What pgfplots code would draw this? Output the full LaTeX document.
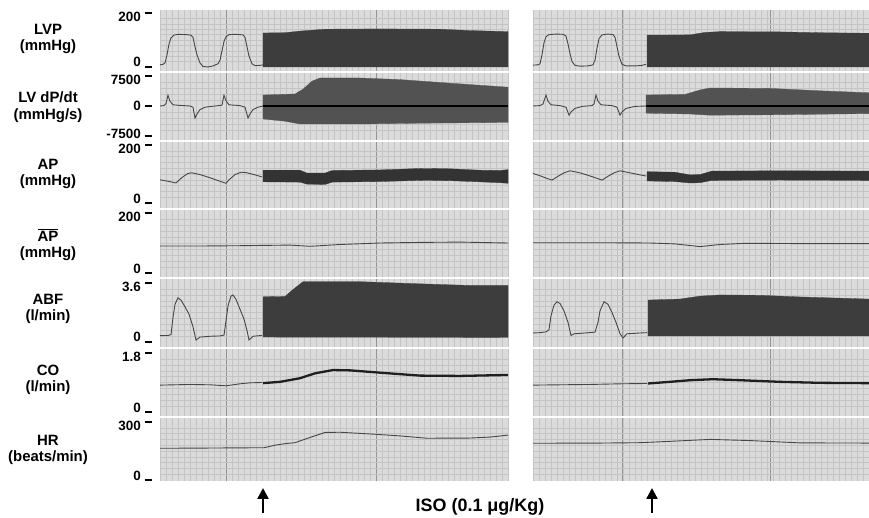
\documentclass[border=0pt]{standalone}
\usepackage{fontspec}
\setmainfont{Liberation Sans}
\usepackage{pgfplots}
\pgfplotsset{compat=1.18}
\usetikzlibrary{arrows.meta}
\definecolor{paper}{gray}{0.86}
\definecolor{gridc}{gray}{0.77}
\definecolor{majc}{gray}{0.58}
\newcommand{\dash}{\hspace{4bp}\rule[-0.8bp]{7bp}{1.7bp}}
\newcommand{\toplab}[1]{\raisebox{-8.5bp}{#1}\dash}
\newcommand{\botlab}[1]{#1\dash}
\newcommand{\midlab}[1]{\raisebox{-4.5bp}{#1}\dash}
\newcommand{\neglab}[1]{\raisebox{-3bp}{#1}\dash}
\pgfplotsset{
  strip/.style={scale only axis, anchor=south west, clip=false,
    axis background/.style={fill=paper},
    axis line style={draw=none},
    tick style={draw=none},
    xticklabels={},
    xmajorgrids=true, xminorgrids=true, yminorgrids=true, ymajorgrids=false,
    major grid style={draw=majc, line width=0.6bp},
    minor grid style={draw=gridc, line width=0.35bp},
    tick label style={font=\fontsize{13.5}{14}\selectfont\bfseries},
    yticklabel style={anchor=base east, inner sep=0pt, xshift=-8bp},
    minor y tick num=9},
  leftp/.style={strip, width=348bp, xmin=160, xmax=508, xtick={226,376},
    minor xtick={160,166,...,508}},
  rightp/.style={strip, width=336bp, xmin=533, xmax=869, xtick={622,770},
    minor xtick={533,539,...,869}, yticklabels={}},
  trace/.style={draw=black!72, line width=0.9bp},
  band/.style={fill=black!76, draw=black!76, line width=0.3bp},
}
\begin{document}
\begin{tikzpicture}
\path[use as bounding box] (0,0) rectangle (869bp,518bp);
% ---------------- Row 1: LVP
\begin{axis}[leftp, at={(160bp,447bp)}, height=61bp, ymin=-14.8, ymax=211.1,
  ytick={0,200}, yticklabels={\botlab{0},\toplab{200}}]
\addplot[trace] coordinates {(160,8)(163,10)(165,15)(167,45)(169,85)(171,108)(174,118)(178,121)(186,120)(191,118)(193,110)(195,75)(197,45)(200,15)(203,2)(208,0)(213,4)(218,12)(220,25)(222,60)(224,95)(226,112)(229,120)(236,121)(243,119)(245,110)(247,75)(249,40)(252,12)(255,5)(260,6)(263,8)};
\addplot[band] coordinates {(263,0)(263,126)(285,127)(300,133)(325,140)(380,141)(440,140)(470,135)(508,131)(508,0)} -- cycle;
\end{axis}
\begin{axis}[rightp, at={(533bp,447bp)}, height=61bp, ymin=-14.8, ymax=211.1, ytick={0,200}]
\addplot[trace] coordinates {(533,7)(538,8)(540,12)(542,45)(544,90)(546,112)(549,120)(556,122)(563,121)(566,115)(568,85)(570,50)(572,20)(575,6)(580,3)(588,4)(593,8)(595,25)(597,70)(599,105)(602,119)(608,122)(613,120)(615,110)(617,75)(619,40)(622,10)(626,4)(635,4)(642,6)(646,10)};
\addplot[band] coordinates {(647,0)(647,118)(690,119)(705,128)(720,131)(780,130)(820,127)(869,125)(869,0)} -- cycle;
\end{axis}
% ---------------- Row 2: LV dP/dt
\begin{axis}[leftp, at={(160bp,378bp)}, height=67bp, ymin=-8500, ymax=8250,
  ytick={-7500,0,7500}, minor y tick num=4,
  yticklabels={\neglab{-7500},\midlab{0},\toplab{7500}}]
\addplot[trace] coordinates {(160,0)(164,100)(166,600)(168,2700)(170,1200)(173,300)(180,150)(190,0)(193,-300)(195,-3000)(197,-2000)(200,-900)(205,-300)(215,0)(222,200)(224,2700)(226,1300)(229,300)(240,100)(245,-300)(248,-3000)(250,-2000)(253,-900)(258,-300)(263,0)};
\addplot[band, fill=black!68, draw=black!68] coordinates {(263,2750)(295,3000)(303,4200)(312,6200)(320,7000)(360,7000)(400,6600)(450,5700)(508,4700)(508,-4100)(420,-4300)(360,-4500)(300,-4500)(285,-3800)(263,-3250)} -- cycle;
\addplot[draw=black, line width=1.4bp] coordinates {(263,0)(508,0)};
\end{axis}
\begin{axis}[rightp, at={(533bp,378bp)}, height=67bp, ymin=-8500, ymax=8250,
  ytick={-7500,0,7500}, minor y tick num=4]
\addplot[trace] coordinates {(533,0)(540,100)(543,500)(546,2750)(548,1200)(551,300)(560,100)(566,-300)(569,-2300)(571,-1500)(575,-600)(582,-100)(592,100)(594,500)(596,2750)(598,1200)(601,300)(612,100)(617,-300)(620,-2300)(622,-1500)(626,-600)(635,-100)(646,0)};
\addplot[band, fill=black!68, draw=black!68] coordinates {(646,2750)(685,2900)(700,4000)(710,4500)(770,4400)(820,3800)(869,3300)(869,-1900)(770,-2200)(710,-2300)(690,-2000)(646,-1800)} -- cycle;
\addplot[draw=black, line width=1.4bp] coordinates {(646,0)(869,0)};
\end{axis}
% ---------------- Row 3: AP
\begin{axis}[leftp, at={(160bp,310bp)}, height=66bp, ymin=-17.2, ymax=210.3,
  ytick={0,200}, yticklabels={\botlab{0},\toplab{200}}]
\addplot[trace] coordinates {(160,80)(168,75)(176,69)(182,88)(188,102)(192,104)(200,98)(210,87)(220,75)(226,68)(229,80)(235,98)(241,106)(246,105)(254,98)(262,90)};
\addplot[band, fill=black!80, draw=black!80] coordinates {(263,113)(300,113)(307,103)(325,103)(332,112)(380,114)(420,119)(450,118)(480,113)(500,112)(508,115)(508,68)(500,70)(480,73)(450,77)(420,78)(380,74)(332,72)(325,64)(307,65)(300,72)(263,73)} -- cycle;
\end{axis}
\begin{axis}[rightp, at={(533bp,310bp)}, height=66bp, ymin=-17.2, ymax=210.3, ytick={0,200}]
\addplot[trace] coordinates {(533,102)(540,94)(546,86)(552,79)(558,92)(564,104)(570,111)(580,104)(592,91)(602,79)(608,92)(614,104)(620,111)(630,104)(640,97)(646,93)};
\addplot[band, fill=black!80, draw=black!80] coordinates {(647,108)(675,106)(690,97)(700,98)(712,110)(780,111)(869,110)(869,78)(780,79)(712,78)(700,70)(690,69)(675,74)(647,76)} -- cycle;
\end{axis}
% ---------------- Row 4: mean AP
\begin{axis}[leftp, at={(160bp,241bp)}, height=67bp, ymin=-13.3, ymax=210,
  ytick={0,200}, yticklabels={\botlab{0},\toplab{200}}]
\addplot[trace] coordinates {(160,90)(200,90)(240,91)(263,92)(290,93)(310,89)(340,95)(380,100)(420,102)(460,103)(508,100)};
\end{axis}
\begin{axis}[rightp, at={(533bp,241bp)}, height=67bp, ymin=-13.3, ymax=210, ytick={0,200}]
\addplot[trace] coordinates {(533,101)(600,101)(650,100)(675,97)(700,88)(720,95)(745,99)(800,98)(869,98)};
\end{axis}
% ---------------- Row 5: ABF
\begin{axis}[leftp, at={(160bp,171bp)}, height=68bp, ymin=-0.305, ymax=3.844,
  ytick={0,3.6}, yticklabels={\botlab{0},\toplab{3.6}}]
\addplot[trace] coordinates {(160,0.39)(168,0.40)(171,0.45)(173,1.5)(175,2.3)(178,2.70)(181,2.55)(185,2.15)(189,1.7)(193,0.93)(196,0.12)(200,0.30)(210,0.35)(220,0.37)(224,0.42)(226,1.3)(228,2.2)(231,2.8)(233,2.87)(236,2.6)(240,2.0)(244,1.4)(247,0.7)(249,0.12)(253,0.35)(262,0.40)};
\addplot[band] coordinates {(263,0.30)(263,2.76)(285,2.78)(293,3.2)(303,3.68)(360,3.68)(420,3.55)(470,3.45)(508,3.45)(508,0.28)} -- cycle;
\end{axis}
\begin{axis}[rightp, at={(533bp,171bp)}, height=68bp, ymin=-0.305, ymax=3.844, ytick={0,3.6}]
\addplot[trace] coordinates {(533,0.55)(540,0.57)(546,0.62)(549,0.75)(551,1.6)(554,2.25)(557,2.46)(560,2.35)(564,1.9)(568,1.2)(571,0.4)(574,0.5)(585,0.55)(595,0.6)(598,1.2)(600,1.9)(604,2.46)(608,2.3)(612,1.8)(616,1.2)(620,0.5)(623,0.25)(627,0.5)(640,0.55)(647,0.57)};
\addplot[band] coordinates {(648,0.37)(648,2.56)(680,2.62)(700,2.8)(720,2.87)(760,2.85)(800,2.75)(869,2.62)(869,0.37)} -- cycle;
\end{axis}
% ---------------- Row 6: CO
\begin{axis}[leftp, at={(160bp,102bp)}, height=67bp, ymin=-0.122, ymax=1.922,
  ytick={0,1.8}, yticklabels={\botlab{0},\toplab{1.8}}]
\addplot[trace] coordinates {(160,0.82)(190,0.84)(210,0.83)(226,0.80)(240,0.86)(250,0.89)(262,0.90)};
\addplot[draw=black!88, line width=2.3bp] coordinates {(263,0.88)(280,0.92)(300,1.03)(315,1.18)(333,1.28)(350,1.27)(380,1.2)(420,1.11)(460,1.10)(508,1.13)};
\end{axis}
\begin{axis}[rightp, at={(533bp,102bp)}, height=67bp, ymin=-0.122, ymax=1.922, ytick={0,1.8}]
\addplot[trace] coordinates {(533,0.82)(560,0.83)(590,0.84)(620,0.86)(647,0.87)};
\addplot[draw=black!88, line width=2.3bp] coordinates {(648,0.87)(670,0.92)(690,0.97)(713,1.0)(740,0.97)(780,0.92)(820,0.89)(869,0.88)};
\end{axis}
% ---------------- Row 7: HR
\begin{axis}[leftp, at={(160bp,37bp)}, height=63bp, ymin=-5.17, ymax=320.7,
  ytick={0,300}, yticklabels={\botlab{0},\toplab{300}}]
\addplot[trace] coordinates {(160,164)(200,165)(230,166)(264,167)(275,180)(285,188)(295,193)(310,220)(325,246)(340,247)(377,236)(400,228)(427,216)(470,217)(490,222)(508,232)};
\end{axis}
\begin{axis}[rightp, at={(533bp,37bp)}, height=63bp, ymin=-5.17, ymax=320.7, ytick={0,300}]
\addplot[trace] coordinates {(533,190)(600,191)(640,193)(670,200)(710,210)(750,204)(800,192)(869,191)};
\end{axis}
% ---------------- labels
\begin{scope}[every node/.style={align=center, font=\fontsize{15}{16.5}\selectfont\bfseries}]
\node at (48bp,479bp) {LVP\\(mmHg)};
\node at (48bp,411bp) {LV dP/dt\\(mmHg/s)};
\node at (48bp,344bp) {AP\\(mmHg)};
\node at (48bp,273bp) {$\overline{\hbox{AP}}$\\(mmHg)};
\node at (48bp,209bp) {ABF\\(l/min)};
\node at (48bp,138bp) {CO\\(l/min)};
\node at (48bp,68bp) {HR\\(beats/min)};
\end{scope}
\node[anchor=base, font=\fontsize{18}{18}\selectfont\bfseries] at (480bp,7bp) {ISO (0.1 μg/Kg)};
\draw[line width=2.4bp, -{Triangle[length=11bp,width=11bp]}] (263bp,5bp) -- (263bp,30bp);
\draw[line width=2.4bp, -{Triangle[length=11bp,width=11bp]}] (652bp,5bp) -- (652bp,30bp);
\end{tikzpicture}
\end{document}
